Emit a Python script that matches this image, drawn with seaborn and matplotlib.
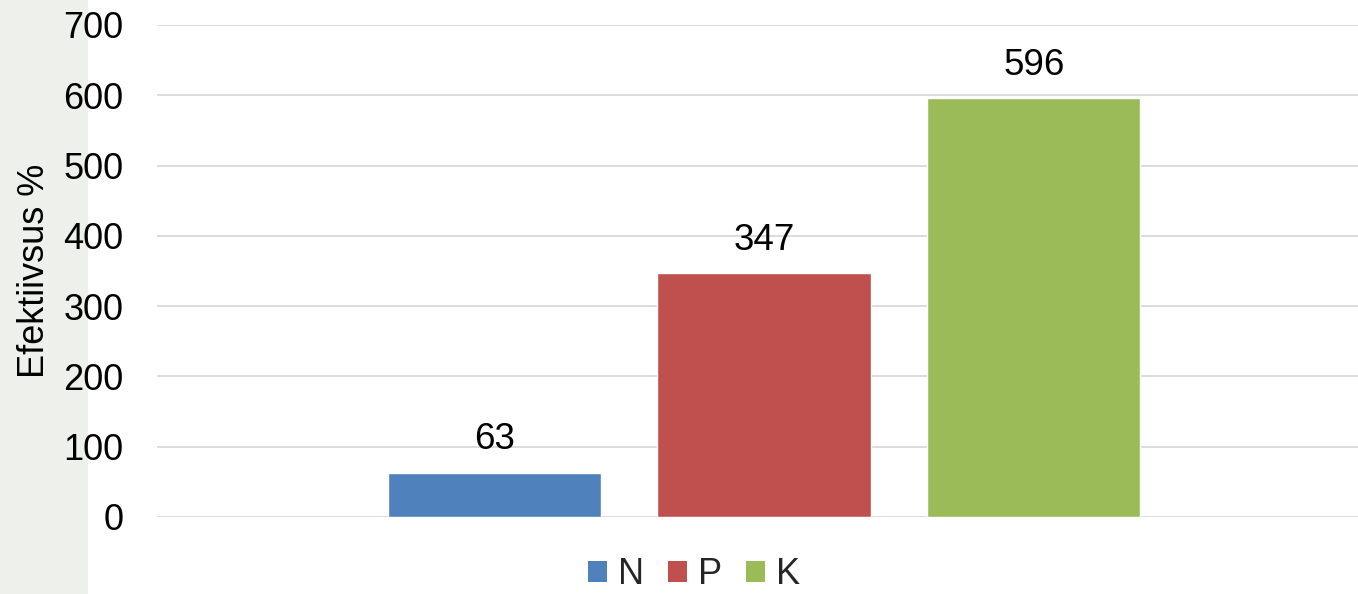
import matplotlib
matplotlib.use("Agg")
import matplotlib.pyplot as plt
from matplotlib.patches import Patch, Rectangle
import seaborn as sns
import pandas as pd

categories = [""]
series = ["N", "P", "K"]
values = [63, 347, 596]
colors = ["#4F81BD", "#C0504D", "#9BBB59"]
yticks = [0, 100, 200, 300, 400, 500, 600, 700]
ylabel = "Efektiivsus %"

df = pd.DataFrame({"cat": categories * len(series), "series": series, "value": values})

sns.set_theme(style="white")
plt.rcParams["font.family"] = ["Liberation Sans", "DejaVu Sans"]

fig = plt.figure(figsize=(13.58, 5.94), dpi=100)
fig.patches.append(Rectangle((0, 0), 88 / 1358, 1, transform=fig.transFigure,
                             facecolor="#eef1eb", edgecolor="none", zorder=-5))
ax = fig.add_axes([157 / 1358, 77 / 594, 1 - 157 / 1358, (517 - 25) / 594])
ax.set_facecolor("none")
ax.set_zorder(2)

sns.barplot(data=df, x="cat", y="value", hue="series", hue_order=series,
            palette=colors, width=0.674, gap=0.21, saturation=1, ax=ax,
            legend=False, errorbar=None)

for c in ax.containers:
    ax.bar_label(c, fmt="%d", padding=11, fontsize=26.5, color="#000000")

ax.set_xlim(-0.5054, 0.4946)
ax.set_ylim(0, 700)
ax.set_yticks(yticks)
ax.set_yticklabels([str(t) for t in yticks], fontsize=26, color="#000000")
ax.tick_params(axis="y", length=0, pad=24)
ax.set_xticks([])
ax.set_xlabel("")
ax.set_ylabel(ylabel, fontsize=26, color="#000000")
ax.yaxis.grid(True, color="#d9d9d9", linewidth=1.3)
ax.set_axisbelow(True)
for s in ax.spines.values():
    s.set_visible(False)
ax.yaxis.set_label_coords(-105 / (1358 - 157), 0.5)

handles = [Patch(facecolor=c, edgecolor="none") for c in colors]
fig.legend(handles, series, loc="lower center", bbox_to_anchor=(0.511, -0.052),
           ncol=3, frameon=False, fontsize=26, handlelength=0.53, handleheight=0.53,
           handletextpad=0.3, columnspacing=0.67)

fig.savefig("out.png", dpi=100)
